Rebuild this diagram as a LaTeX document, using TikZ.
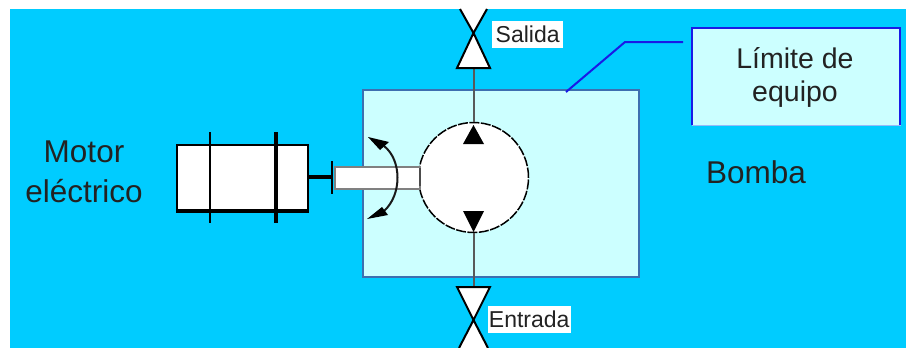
\documentclass[tikz,border=0pt]{standalone}
\usepackage{fontspec}
\setmainfont{Liberation Sans}
\definecolor{fondo}{HTML}{00CCFF}
\definecolor{claro}{HTML}{CCFFFF}
\definecolor{borde}{HTML}{3D6FB0}
\definecolor{azul}{HTML}{1A1AE6}
\definecolor{texto}{HTML}{222222}
\tikzset{
    caja/.style={draw=black, fill=white, inner sep=0pt, anchor=north west},
    rotulo/.style={fill=white, inner sep=0pt, text=texto, font=\fontsize{23}{24}\selectfont, anchor=north west, align=center},
    titulo/.style={inner sep=0pt, text=texto, font=\fontsize{31.5}{40}\selectfont, align=center},
    valvula/.style={draw=black, line width=2pt, fill=white, line join=miter},
    punta/.style={fill=black, draw=none}
}
\begin{document}
\begin{tikzpicture}[x=1pt,y=-1pt]
    \useasboundingbox (0,0) rectangle (906,348);
    \fill[fondo] (10,9) rectangle (906,348);
    % bomba y limite
    \node[caja, draw=borde, fill=claro, line width=1.8pt, minimum width=276pt, minimum height=187pt] (bomba) at (362,89) {};
    \node[caja, draw=claro!70!azul, fill=claro, line width=.8pt, minimum width=208pt, minimum height=97pt] (limite) at (691.5,27.5) {};
    \draw[azul, line width=2pt] (limite.south west) -- (limite.north west) -- (limite.north east) -- (limite.south east);
    \node[titulo, font=\fontsize{28.5}{33}\selectfont] at (795,77) {Límite de\\equipo};
    \coordinate (codo) at (625,42);
    \coordinate (fin) at (683,42);
    \draw[azul, line width=2pt] (bomba.north west) ++(204,3) -- (codo) -- (fin);
    % valvulas
    \coordinate (salida) at (473.5,33);
    \coordinate (entrada) at (473.5,320);
    \node[circle, draw=black, fill=white, line width=1.5pt, dash pattern=on 10pt off 1.5pt, minimum size=110pt, inner sep=0pt] (rotor) at (473.5,177.5) {};
    \draw[line width=2pt, black!65] (salida) ++(0,35) -- (rotor.north);
    \draw[line width=2pt, black!65] (rotor.south) -- ++(0,55);
    \draw[valvula] (salida) -- (457,68) -- (490,68) -- cycle;
    \draw[valvula] (460,9) -- (salida) -- (487,9);
    \draw[valvula] (entrada) -- (457,287) -- (490,287) -- cycle;
    \draw[valvula] (459,348) -- (entrada) -- (488,348);
    \fill[punta] (473.5,125) -- (463,144) -- (484,144) -- cycle;
    \fill[punta] (473.5,232) -- (463,211) -- (484,211) -- cycle;
    \node[rotulo, minimum width=71pt, minimum height=27pt] (salidatxt) at (492,21) {Salida};
    \node[rotulo, minimum width=83pt, minimum height=27pt] (entradatxt) at (487.5,306) {Entrada};
    % motor
    \node[caja, line width=2pt, minimum width=131pt, minimum height=65pt] (motor) at (176,143.5) {};
    \draw[line width=4pt] (motor.south west) -- (motor.south east);
    \draw[line width=2pt] (210,132) -- (210,223);
    \draw[line width=4pt] (276,132) -- (276,223);
    \node[caja, draw=black!50, line width=2.4pt, minimum width=85pt, minimum height=22pt] (eje) at (334,165.5) {};
    \coordinate (tope) at (332,177);
    \draw[line width=4.5pt] (motor.east) -- (tope);
    \draw[line width=2.2pt] (332,161) -- (332,194);
    \draw[line width=2pt, black!70] (420,168) -- (420,186);
    % giro
    \draw[line width=2pt, black!90] (384,146) .. controls (402,160) and (402,195) .. (384,211);
    \fill[punta] (368,137) -- (389,142) -- (380,150) -- cycle;
    \fill[punta] (367,219) -- (388,215) -- (382,207) -- cycle;
    % textos
    \node[titulo, anchor=base] at (84,202) {Motor\\eléctrico};
    \node[titulo, anchor=base] at (756,183) {Bomba};
\end{tikzpicture}
\end{document}
